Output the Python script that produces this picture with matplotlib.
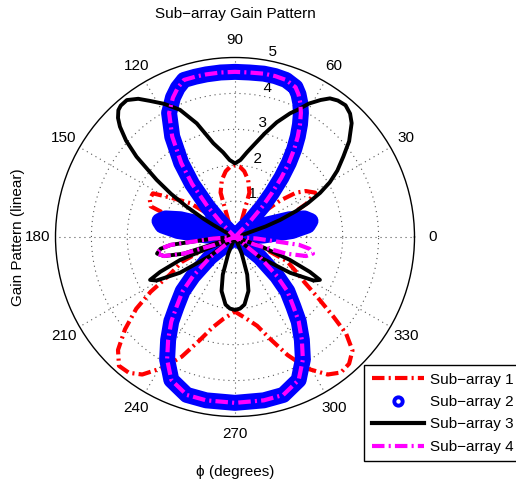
import numpy as np
import matplotlib
matplotlib.use("Agg")
import matplotlib.pyplot as plt
from matplotlib.lines import Line2D

# ---------------- data ----------------
title_text = "Sub\u2212array Gain Pattern"
series_names = ["Sub\u2212array 1", "Sub\u2212array 2", "Sub\u2212array 3", "Sub\u2212array 4"]
angle_ticks = [0, 30, 60, 90, 120, 150, 180, 210, 240, 270, 300, 330]
radial_ticks = [1, 2, 3, 4, 5]

# Sub-array 1 (red)
sa1_deg = [0, 10, 15, 18, 21, 25, 29, 33, 36, 39, 43, 47, 50, 66, 68, 72, 77, 82, 86, 90,
           94, 98, 103, 108, 112, 114, 130, 133, 137, 143, 148, 152, 156, 160, 165, 170, 175,
           190, 195, 201, 205, 210, 213, 216, 220, 224, 228, 232, 236, 241, 246, 251, 256,
           262, 270, 278, 284, 289, 294, 299, 304, 308, 312, 316, 319, 321, 324, 327, 330,
           335, 339, 345, 350, 360]
sa1_gain = [0, 0, 0.4, 1.0, 1.6, 2.2, 2.55, 2.35, 2.1, 1.6, 0.8, 0.1, 0, 0, 0.5, 1.3, 1.63,
            1.85, 1.96, 2.0, 1.96, 1.85, 1.63, 1.3, 0.5, 0, 0, 0.1, 0.8, 1.57, 2.04, 2.59,
            2.6, 2.5, 1.5, 0.5, 0, 0, 0.3, 0.84, 1.63, 2.1, 2.8, 3.4, 4.0, 4.53, 4.83, 4.8,
            4.62, 4.17, 3.65, 3.05, 2.6, 2.3, 2.08, 2.3, 2.55, 3.0, 3.6, 4.2, 4.62, 4.79,
            4.75, 4.55, 4.1, 3.53, 2.82, 2.3, 2.0, 1.6, 0.84, 0.3, 0, 0]

# Sub-array 2 (blue circles)
sa2_deg = [0, 3, 6, 9, 12, 15, 18, 21, 24, 27, 40, 44, 46, 48, 50, 52, 54, 56, 58, 60, 62,
           64, 66, 68, 72, 76, 80, 85, 90, 95, 100, 104, 108, 111, 114, 118, 122, 126, 129,
           132, 134, 136, 140, 153, 156, 159, 162, 165, 168, 171, 174, 177, 180, 215, 219,
           223, 226, 230, 233, 237, 241, 246, 253, 260, 270, 280, 287, 294, 299, 303, 307,
           310, 314, 317, 321, 325, 360]
sa2_gain = [0, 0.8, 1.6, 2.05, 2.15, 2.0, 1.6, 1.0, 0.4, 0, 0, 0.05, 0.6, 1.13, 1.6, 2.1,
            2.55, 2.95, 3.3, 3.62, 3.91, 4.15, 4.35, 4.5, 4.6, 4.62, 4.62, 4.6, 4.6, 4.6,
            4.6, 4.6, 4.6, 4.45, 4.25, 3.91, 3.3, 2.55, 1.9, 1.13, 0.6, 0.05, 0, 0, 0.4,
            1.0, 1.6, 2.0, 2.15, 2.05, 1.6, 0.8, 0, 0, 0.89, 1.6, 2.1, 2.53, 2.95, 3.42,
            3.9, 4.36, 4.6, 4.62, 4.62, 4.62, 4.6, 4.36, 3.9, 3.42, 2.95, 2.53, 2.1, 1.6,
            0.89, 0, 0]

# Sub-array 3 (black)
sa3_deg = [0, 15, 17, 19, 20.7, 23, 25, 27.4, 30, 33, 36.6, 40, 44.3, 47, 50, 53, 55.6, 58,
           61, 64, 66, 70, 74, 78, 82, 86, 90, 94, 98, 103, 108.6, 113.4, 118, 122, 125,
           128.3, 131, 132.6, 134.5, 136.2, 138.5, 140.8, 143.9, 146, 147.9, 150, 151, 153,
           155, 180, 184, 187, 189, 192, 195, 198, 200, 202.7, 205, 206.8, 209, 213, 217,
           221, 244, 248, 252, 256, 262, 266, 270, 274, 278, 284, 288, 292, 296, 319, 321,
           327, 331, 333.2, 335, 337.3, 340, 342, 360]
sa3_gain = [0, 0, 0.3, 0.9, 1.34, 1.85, 2.25, 2.67, 3.05, 3.4, 3.76, 4.15, 4.54, 4.7, 4.79,
            4.76, 4.68, 4.5, 4.25, 3.93, 3.77, 3.4, 3.0, 2.65, 2.38, 2.15, 2.05, 2.15, 2.38,
            2.68, 3.34, 3.86, 4.2, 4.47, 4.7, 4.86, 4.85, 4.8, 4.65, 4.44, 4.05, 3.54, 2.70,
            2.15, 1.59, 1.0, 0.69, 0.25, 0, 0, 0.6, 1.8, 2.1, 2.22, 2.05, 1.5, 0, 1.66, 2.3,
            2.65, 2.5, 1.83, 0.9, 0, 0, 0.5, 1.1, 1.55, 1.9, 2.0, 2.03, 2.0, 1.9, 1.55, 1.1,
            0.5, 0, 0, 0.9, 1.83, 2.5, 2.65, 2.3, 1.66, 0.8, 0, 0]

# Sub-array 4 (magenta)
sa4_deg = [0, 40, 44, 46, 48, 50, 52, 54, 56, 58, 60, 62, 64, 66, 68, 72, 76, 80, 85, 90, 95,
           100, 104, 108, 111, 114, 118, 122, 126, 129, 132, 134, 136, 140, 180, 184, 187,
           189, 192, 195, 198, 201, 204, 215, 219, 223, 226, 230, 233, 237, 241, 246, 253,
           260, 270, 280, 287, 294, 299, 303, 307, 310, 314, 317, 321, 325, 336, 339, 342,
           345, 348, 351, 353, 356, 360]
sa4_gain = [0, 0, 0.05, 0.6, 1.13, 1.6, 2.1, 2.55, 2.95, 3.3, 3.62, 3.91, 4.15, 4.35, 4.5,
            4.6, 4.62, 4.62, 4.6, 4.6, 4.6, 4.6, 4.6, 4.6, 4.45, 4.25, 3.91, 3.3, 2.55, 1.9,
            1.13, 0.6, 0.05, 0, 0, 0.6, 1.8, 2.1, 2.22, 2.05, 1.5, 0.6, 0, 0, 0.89, 1.6, 2.1,
            2.53, 2.95, 3.42, 3.9, 4.36, 4.6, 4.62, 4.62, 4.62, 4.6, 4.36, 3.9, 3.42, 2.95,
            2.53, 2.1, 1.6, 0.89, 0, 0, 0.6, 1.5, 2.05, 2.22, 2.1, 1.8, 0.6, 0]

# ---------------- figure ----------------
plt.rcParams["font.family"] = ["Liberation Sans", "DejaVu Sans"]
W, H = 516, 488
fig = plt.figure(figsize=(W / 100, H / 100), dpi=100)

cx, cy, R = 235, 237, 179.5
ax = fig.add_axes([(cx - R) / W, 1 - (cy + R) / H, 2 * R / W, 2 * R / H], projection="polar")
rmax = 5
ax.set_ylim(0, rmax)
ax.set_theta_zero_location("E")
ax.set_theta_direction(1)
ax.set_xticks([])
ax.set_yticks([])
ax.grid(False)
ax.spines["polar"].set_color("black")
ax.spines["polar"].set_linewidth(1.0)
ax.patch.set_facecolor("white")

# dotted MATLAB-like grid
tt = np.linspace(0, 2 * np.pi, 400)
for rt in radial_ticks[:-1]:
    ax.plot(tt, np.full_like(tt, rt), color="#555555", lw=0.8, ls=(0, (1, 3.5)), zorder=1)
for a in angle_ticks:
    ax.plot([np.deg2rad(a), np.deg2rad(a)], [0, rmax], color="#555555", lw=0.8,
            ls=(0, (1, 3.5)), zorder=1)

fs = 11
for a in angle_ticks:
    ax.text(np.deg2rad(a), rmax * 1.1, str(a), ha="center", va="center", fontsize=fs,
            clip_on=False)
for rt in radial_ticks:
    ax.text(np.deg2rad(82), rt, "  " + str(rt), ha="left", va="bottom", fontsize=fs,
            clip_on=False)

# series
dashdot = (0, (3.0, 1.0, 0.5, 1.0))
l1, = ax.plot(np.deg2rad(sa1_deg), sa1_gain, color=(1, 0, 0), lw=3.0, ls=dashdot,
              zorder=3, clip_on=False)
l2, = ax.plot(np.deg2rad(sa2_deg), sa2_gain, color=(0, 0, 1), lw=11.5,
              solid_capstyle="round", solid_joinstyle="round", zorder=4, clip_on=False)
l3, = ax.plot(np.deg2rad(sa3_deg), sa3_gain, color="black", lw=2.8,
              solid_joinstyle="round", zorder=5, clip_on=False)
l4, = ax.plot(np.deg2rad(sa4_deg), sa4_gain, color=(1, 0, 1), lw=3.0, ls=dashdot,
              zorder=6, clip_on=False)

# labels
fig.text(cx / W, 1 - 14 / H, title_text, ha="center", va="center", fontsize=fs)
fig.text(cx / W, 1 - 472 / H, "\u03d5 (degrees)", ha="center", va="center", fontsize=fs)
fig.text(18 / W, 1 - cy / H, "Gain Pattern (linear)", ha="center", va="center",
         rotation=90, fontsize=fs)

# legend
h1 = Line2D([], [], color=(1, 0, 0), lw=3.0, ls=dashdot)
h2 = Line2D([], [], color=(0, 0, 1), ls="none", marker="o", ms=6, mew=2.8, mfc="white")
h3 = Line2D([], [], color="black", lw=3.0)
h4 = Line2D([], [], color=(1, 0, 1), lw=3.0, ls=dashdot)
leg = fig.legend([h1, h2, h3, h4], series_names, loc="upper left",
                 bbox_to_anchor=(364 / W, 1 - 365 / H), fontsize=fs, frameon=True,
                 fancybox=False, framealpha=1, edgecolor="black", borderpad=0.5,
                 handlelength=3.4, handletextpad=0.45, labelspacing=0.55, borderaxespad=0)
leg.get_frame().set_linewidth(1.0)

fig.savefig("out.png", dpi=100)
